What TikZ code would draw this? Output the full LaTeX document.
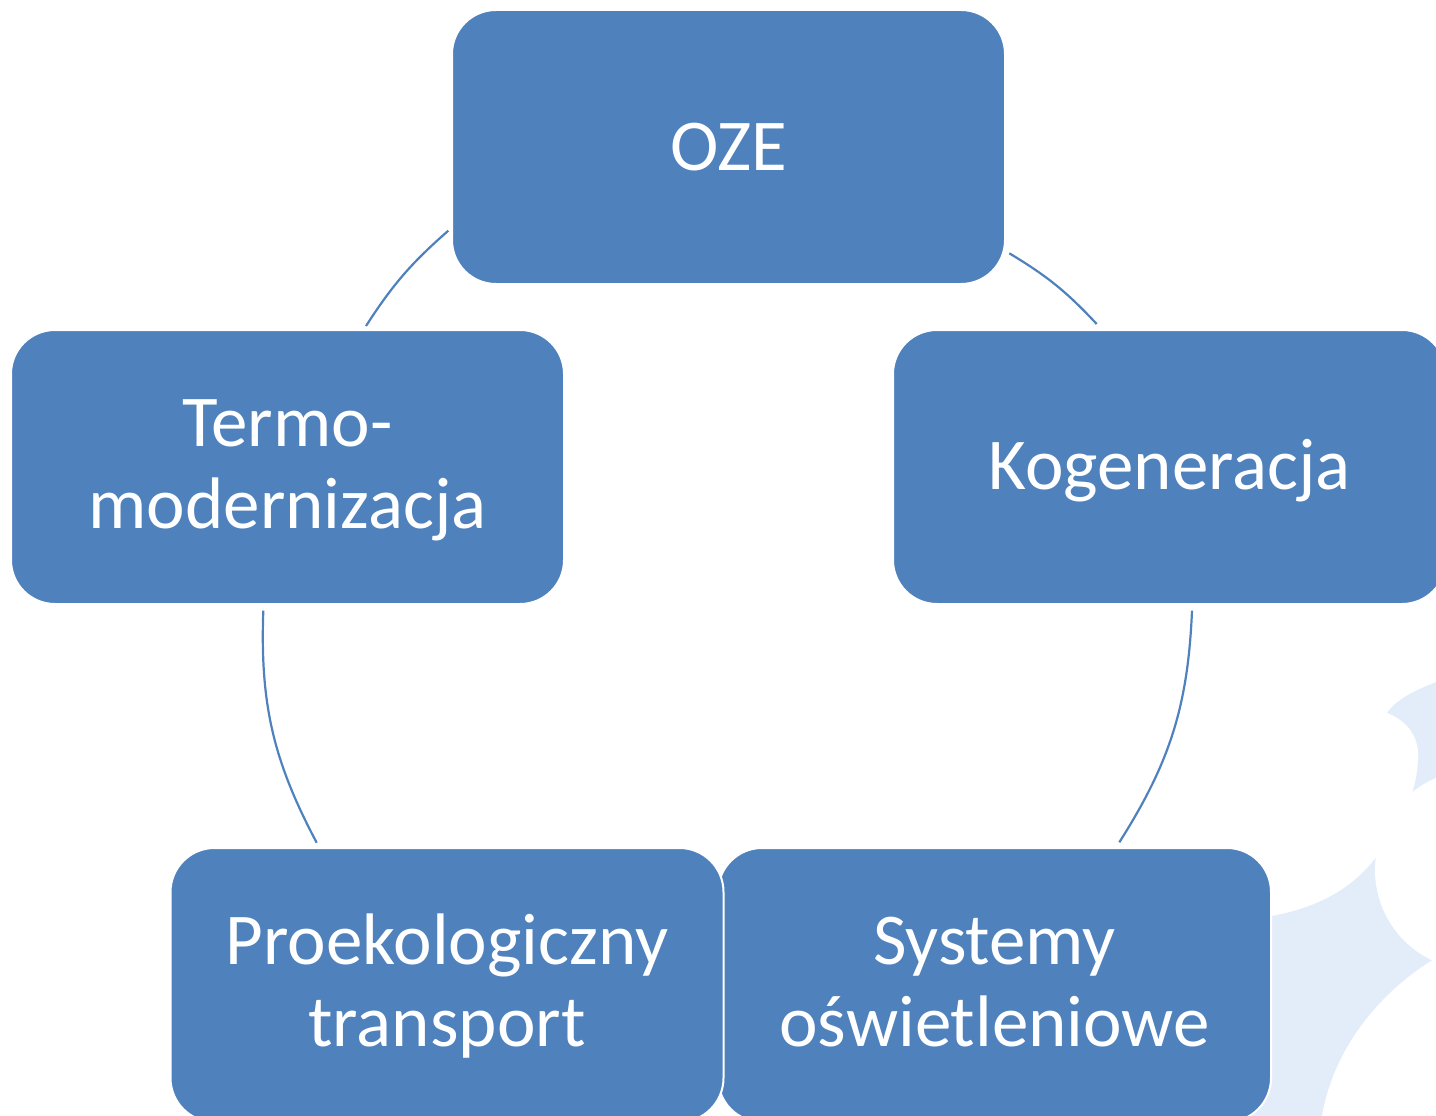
\documentclass[tikz,border=0pt]{standalone}
\usepackage{fontspec}
\setmainfont{Carlito}
\definecolor{boxblue}{HTML}{4F81BD}
\definecolor{wmblue}{HTML}{E3EDF9}
\newcommand{\lowered}[1]{\raisebox{-4pt}[\height][\depth]{#1}}
\newcommand{\twolines}[2]{\lowered{\begin{tabular}{@{}c@{}}#1\\#2\end{tabular}}}
\begin{document}
\begin{tikzpicture}[x=1pt,y=-1pt,
  box/.style={rectangle, rounded corners=44pt, fill=boxblue, draw=white, line width=2pt,
    minimum width=553pt, minimum height=274pt, text=white, align=center,
    font=\fontsize{73}{82}\selectfont, inner sep=0pt},
  link/.style={draw=boxblue, line width=2.2pt}]
\useasboundingbox (0,0) rectangle (1436,1116);
\clip (0,0) rectangle (1436,1116);
% faint background watermark
\fill[wmblue] (1240,650) rectangle (1436,1116);
\fill[white] (1240,640) -- (1436,640) -- (1436,682)
  .. controls (1415,690) and (1395,700) .. (1387,713)
  .. controls (1405,720) and (1420,735) .. (1418,760)
  .. controls (1416,800) and (1395,840) .. (1360,875)
  .. controls (1335,898) and (1300,915) .. (1240,920) -- cycle;
\fill[white] (1475,870) circle[radius=100];
\fill[white] (1436,958) .. controls (1390,985) and (1335,1040) .. (1322,1116) -- (1436,1116) -- cycle;
% connectors
\coordinate (tlA) at (366,326);
\coordinate (tlB) at (448.3,230.7);
\coordinate (trA) at (1009.3,253.3);
\coordinate (trB) at (1096.7,324);
\coordinate (blA) at (263.3,610.7);
\coordinate (blB) at (316.7,842.7);
\coordinate (brA) at (1192,610.7);
\coordinate (brB) at (1119.3,842.3);
\draw[link] (tlA) to[bend left=8] (tlB);
\draw[link] (trA) to[bend left=8] (trB);
\draw[link] (blA) to[bend right=15] (blB);
\draw[link] (brA) to[bend left=15] (brB);
% boxes
\node[box] (oze) at (728.5,147) {OZE};
\node[box] (kog) at (1169.5,467) {\lowered{Kogeneracja}};
\node[box] (sys) at (994.5,985) {\twolines{Systemy}{oświetleniowe}};
\node[box] (pro) at (447,985) {\twolines{Proekologiczny}{transport}};
\node[box] (ter) at (287.5,467) {\twolines{Termo-}{modernizacja}};
\end{tikzpicture}
\end{document}
